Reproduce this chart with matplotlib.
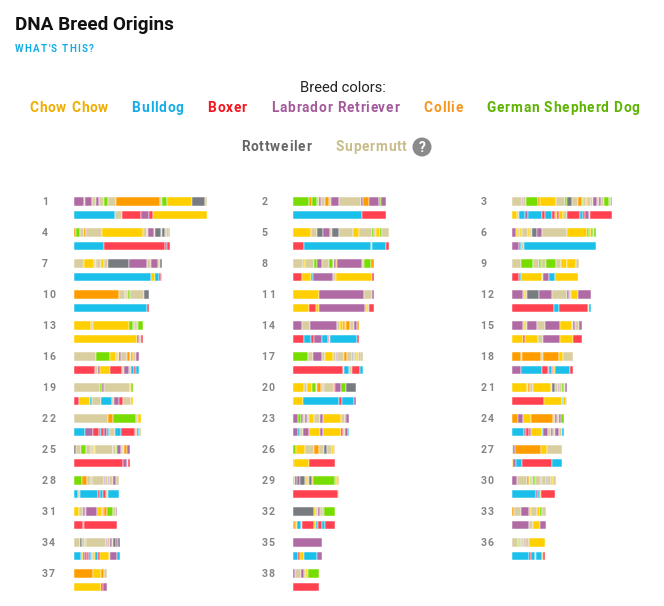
import matplotlib.pyplot as plt
from matplotlib.patches import Circle

# breeds: code, legend name, bar colour, legend text colour
breed_codes = ['C', 'B', 'X', 'L', 'O', 'G', 'R', 'S']
breed_names = ['Chow Chow', 'Bulldog', 'Boxer', 'Labrador Retriever', 'Collie',
               'German Shepherd Dog', 'Rottweiler', 'Supermutt']
bar_colors = ['#ffcf00', '#1bc0ea', '#ff4150', '#b06ba5', '#ff9d00',
              '#77dd00', '#787b7f', '#d9cea0']
text_colors = ['#f0ad00', '#14ade6', '#f5141e', '#a3599b', '#f7941d',
               '#5cb300', '#666666', '#c8bd8a']

# painted segments per chromosome, copy 1 (top) and copy 2 (bottom): breed code + length
copy_top = [
    "L30 S3 L21 S11 L10 S15 G11 S25 O132 S5 G17 C74 R39 S5",
    "G49 O7 G15 S6 L8 S11 O12 S6 L23 S68 L6 O18 L28 G8 L14",
    "S29 L5 S8 G36 O6 C48 S27 G7 R13 S18 O12 G5 S8 O4 S10 L4 S4 L12 S6 L4 S10 G16 S4 L4",
    "O7 G10 S14 O4 S50 C123 S10 C3 L19 S4 R18 S3 R8 S5 R5 S5",
    "C54 S17 R20 L20 S5 R23 S40 C20 S39 G5 S6 C12 G7 S21",
    "L12 C5 S7 C6 S18 C6 S6 R16 L14 S74 C62 G4 C8 G6 S2 G6",
    "S30 C30 S5 O2 S13 C10 S13 R61 L55 S12 L21 S6 R5",
    "S31 C6 S26 G8 L16 S21 G11 S5 L5 O4 L74 S6 G22 O7",
    "S27 G35 S18 G6 S16 G30 S16 C16 S2 C26 S8",
    "O136 S16 G4 S7 G4 S43 R16",
    "C79 L134 S24 L5",
    "L32 C6 S6 R38 L37 S47 L4 S6 C22 L38",
    "C52 S5 C109 G12 S4 L4 S5 G15",
    "L26 S25 L81 S9 C8 O7 C4 O11 S11 L10 O6",
    "L32 C7 S5 L30 S26 L44 C36 S4 L6 S12 L8",
    "S66 G43 C17 S5 C5 L5 S17 O10 S3 O7 S8 L8",
    "G46 S14 L27 S8 C24 S9 L5 S20 O8 S15 R5 S5 C7 S5 R3 S8",
    "O26 S3 O57 S6 O50 C12 S28",
    "S78 G6 L6 S78 C2 G6",
    "C33 S10 C14 G12 S2 O12 S8 G2 S30 X4 L18 G14 R30",
    "C44 S4 O6 S10 C52 S4 R9 S9 L4 S8 G6 S4 L6",
    "S103 O15 G68 S6 C8",
    "L15 G8 L8 S6 L4 S8 C14 S18 L8 C54 S12 R4 L10",
    "O19 L15 C22 O68 S6 L4 S8 L6 G8",
    "R6 S15 G15 S14 G4 S6 C3 S53 R2 S8 G4 L10 S8 C3 O7 L10",
    "G8 C28 S28 O14 S15 R10 S13 C7 S4",
    "S4 L5 O78 C19 S43",
    "G25 O15 S10 O4 S36 L3 S8 L4 S11 L10 S9",
    "S5 R8 L9 R13 C8 S4 R10 O4 G66 C6 S4",
    "L14 S32 O4 S4 G4 S6 G6 S16 G4 S12 R2 S14 C6 S8",
    "C16 S10 L7 G3 L32 C15 O3 L4 O10 G18 S7 L5",
    "R63 C6 S5 L7 S8 L4 G34",
    "O5 S21 L26 C6 S18 C8 G6 S12",
    "S18 R5 S9 O3 S61 L4 S8 L6 S4 R8 L6 R6",
    "L87",
    "S18 G3 S5 G4 S6 L4 S11 C49",
    "O58 C22 O10 S10",
    "L6 S18 L10 S5 C6 G33",
]
copy_bottom = [
    "B122 S23 X56 L23 X13 C162",
    "B207 X72",
    "C15 S5 B20 L7 B43 X10 B20 X10 C6 X4 C14 S12 X38 B10 X6 L10 S5 X65",
    "B89 X184 L5 X10",
    "X34 B199 S4 B42 X10",
    "L22 B4 S10 B216",
    "B232 C10 B14 X5 S2",
    "X27 C28 B4 L62 S8 C107 X6",
    "X22 B5 C62 S5 L18 B18 C68",
    "B220 X6",
    "C47 X22 C10 L137 C7 S6 X13",
    "X126 B14 X89 S3 B4",
    "C189 L5 S6 X6",
    "X34 B20 X10 L22 B18 X5 S3 B81 X5",
    "C33 X5 C41 S13 L52 C38 X28",
    "X63 S10 L5 C30 X37 S5 L16 S5 B9 X6 B8",
    "X149 S4 B16 S7 X25 B8",
    "L27 B63 X19 L3 B8 X4 C4 B46 X8",
    "X16 C32 B6 S26 B35 S5 L16 X10 S24 C6",
    "C31 B108 X7 B37 L6",
    "X96 C53 B5 C8 S4",
    "B33 L25 X18 B5 X9 L10 B6 S16 B18 X44 S4 B8 S4",
    "L15 B5 S11 L18 C31 L9 C54 X7 S5 L9 B5",
    "B36 L6 X8 L8 C31 B5 L14 S8 L8 S6 L10 S10 B6",
    "X148 L10 S5 X5",
    "B4 C45 X78",
    "C4 L7 B18 X91 B29",
    "B12 S6 B53 X7 B10 X8 S6 B33",
    "X135 S2",
    "B72 L6 B6 O4 X42",
    "X26 B5 X99",
    "X4 O5 C4 B10 C4 X36 C6 B7 X11 B8 X32",
    "L52 S12 C20 L18",
    "B21 C5 L7 X7 L6 B5 S7 C6 B7 X7 C26 S5 L21 B8",
    "B16 X5 C12 B38 L16",
    "B50 X6 B14 S2 B18 O4 X6",
    "C80 X8 L12",
    "X78",
]

color_of = dict(zip(breed_codes, bar_colors))

fig = plt.figure(figsize=(6.64, 6.06), dpi=100)
ax = fig.add_axes([0, 0, 1, 1])
ax.set_xlim(0, 664)
ax.set_ylim(606, 0)
ax.axis('off')
renderer = fig.canvas.get_renderer()


def spaced_text(x, y, s, tracking, ha='left', **kw):
    # draw text letter by letter with extra spacing (px == data units here)
    parts = [ax.text(0, y, ch, va='center', ha='left', **kw) for ch in s]
    widths = []
    for t, ch in zip(parts, s):
        if ch == ' ':
            sp = ax.text(0, y, 'a a', **kw)
            sp2 = ax.text(0, y, 'aa', **kw)
            w = sp.get_window_extent(renderer).width - sp2.get_window_extent(renderer).width
            sp.remove()
            sp2.remove()
        else:
            w = t.get_window_extent(renderer).width
        widths.append(w)
    total = sum(widths) + tracking * (len(s) - 1)
    start = x - total / 2 if ha == 'center' else x
    for t, w in zip(parts, widths):
        t.set_x(start)
        start += w + tracking


# header
ax.text(15, 25, 'DNA Breed Origins', fontsize=13.6, fontweight='bold',
        family='Roboto', color='#111111', va='center', ha='left')
spaced_text(15, 49, "WHAT'S THIS?", 1.3, fontsize=7.0, fontweight='bold',
            family='Roboto', color='#14ade6')
ax.text(343, 88, 'Breed colors:', fontsize=10.6, family='Roboto',
        color='#222222', va='center', ha='center')

legend_pos = [(68.5, 108), (157.5, 108), (227, 108), (335, 108), (443, 108),
              (563, 108), (276, 147), (371, 147)]
for name, col, (lx, ly) in zip(breed_names, text_colors, legend_pos):
    spaced_text(lx, ly, name, 0.8, ha='center', fontsize=9.8, fontweight='bold',
                family='Roboto', color=col)
ax.add_patch(Circle((422, 147), 8.8, color='#8a8a8a'))
ax.text(422, 147.5, '?', fontsize=10, fontweight='bold', family='Roboto',
        color='white', va='center', ha='center')

# chromosome paintings
unit = 1 / 3.0
col_x = [74, 293, 512]
num_x = [42, 261.5, 480.5]
bar_h = 8.7


def draw_copy(segs, x0, yc):
    left = x0
    for tok in segs.split():
        code, length = tok[0], float(tok[1:]) * unit
        ax.barh(yc, length, left=left, height=bar_h, color=color_of[code],
                edgecolor='white', linewidth=0.35)
        left += length


for i in range(38):
    row, col = divmod(i, 3)
    y_top = 201.65 + row * 31
    spaced_text(num_x[col], y_top, str(i + 1), 1.2, fontsize=7.6, fontweight='bold',
                family='Roboto', color='#858585')
    draw_copy(copy_top[i], col_x[col], y_top)
    draw_copy(copy_bottom[i], col_x[col], y_top + 13.4)

fig.savefig('out.png', dpi=100)
